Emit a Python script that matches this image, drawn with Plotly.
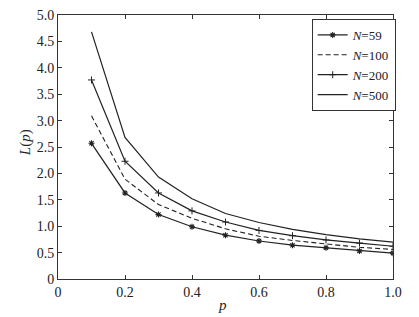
import plotly.graph_objects as go

p = [0.1, 0.2, 0.3, 0.4, 0.5, 0.6, 0.7, 0.8, 0.9, 1.0]
L_N59 = [2.57, 1.63, 1.22, 0.99, 0.83, 0.72, 0.64, 0.59, 0.53, 0.49]
L_N100 = [3.09, 1.89, 1.41, 1.15, 0.95, 0.81, 0.73, 0.66, 0.60, 0.56]
L_N200 = [3.77, 2.23, 1.63, 1.29, 1.08, 0.92, 0.82, 0.74, 0.68, 0.62]
L_N500 = [4.68, 2.68, 1.93, 1.52, 1.24, 1.07, 0.94, 0.84, 0.76, 0.70]

x_ticks = [0, 0.2, 0.4, 0.6, 0.8, 1.0]
x_tick_text = ["0", "0.2", "0.4", "0.6", "0.8", "1.0"]
y_ticks = [0, 0.5, 1.0, 1.5, 2.0, 2.5, 3.0, 3.5, 4.0, 4.5, 5.0]
y_tick_text = ["0", "0.5", "1.0", "1.5", "2.0", "2.5", "3.0", "3.5", "4.0", "4.5", "5.0"]

font = "Liberation Serif"
fig = go.Figure()
fig.add_trace(go.Scatter(x=p, y=L_N59, mode="lines+markers", name="<i>N</i>=59",
                         line=dict(color="#222", width=1.2),
                         marker=dict(symbol="asterisk-open", size=5, color="#222",
                                     line=dict(width=1.1, color="#222"))))
fig.add_trace(go.Scatter(x=p, y=L_N100, mode="lines", name="<i>N</i>=100",
                         line=dict(color="#222", width=1.1, dash="5px,3px")))
fig.add_trace(go.Scatter(x=p, y=L_N200, mode="lines+markers", name="<i>N</i>=200",
                         line=dict(color="#222", width=1.2),
                         marker=dict(symbol="cross-thin-open", size=5, color="#222",
                                     line=dict(width=1.0, color="#222"))))
fig.add_trace(go.Scatter(x=p, y=L_N500, mode="lines", name="<i>N</i>=500",
                         line=dict(color="#222", width=1.2)))

axis_common = dict(showgrid=False, zeroline=False, showline=True, linecolor="#333",
                   linewidth=1, mirror="ticks", ticks="inside", ticklen=4,
                   tickcolor="#333", automargin=False,
                   tickfont=dict(family=font, size=14, color="#222"))
fig.update_xaxes(range=[0, 1.0], tickvals=x_ticks, ticktext=x_tick_text, **axis_common)
fig.update_yaxes(range=[0, 5.0], tickvals=y_ticks, ticktext=y_tick_text, **axis_common)
fig.update_layout(
    width=419, height=317,
    margin=dict(l=58, r=26, t=15, b=38),
    plot_bgcolor="white", paper_bgcolor="white",
    showlegend=True,
    legend=dict(x=1.008, y=0.985, xanchor="right", yanchor="top",
                bgcolor="white", bordercolor="#333", borderwidth=1,
                font=dict(family=font, size=13, color="#222"),
                tracegroupgap=0, itemwidth=30),
    annotations=[
        dict(text="<i>p</i>", xref="paper", yref="paper", x=0.49, y=-0.098,
             xanchor="center", yanchor="middle", showarrow=False,
             font=dict(family=font, size=15, color="#222")),
        dict(text="<i>L</i>(<i>p</i>)", xref="paper", yref="paper", x=-0.098, y=0.515,
             xanchor="center", yanchor="middle", showarrow=False, textangle=-90,
             font=dict(family=font, size=15, color="#222")),
    ],
)
fig.write_html("out.html", config={"displayModeBar": False},
               post_script="document.body.style.margin='0';document.body.style.overflow='hidden';")
